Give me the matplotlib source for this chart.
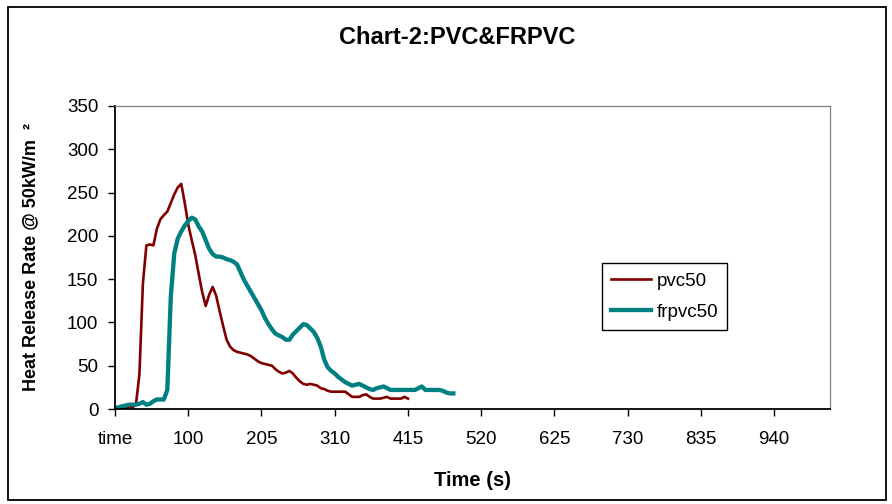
import matplotlib
matplotlib.use("Agg")
import matplotlib.pyplot as plt
from matplotlib.patches import Rectangle

plt.rcParams['font.family'] = ['Liberation Sans', 'DejaVu Sans']

# ---- data ----
categories = ["time"] + [str(t) for t in range(0, 1021, 5)]
tick_step = 21  # a label every 21st category
tick_labels = ["time", "100", "205", "310", "415", "520", "625", "730", "835", "940"]

pvc50 = [0, 0, 1, 1, 2, 2, 5, 40, 145, 189, 190, 189, 208, 219, 224, 228, 238, 248, 256, 260,
         238, 213, 195, 178, 156, 135, 119, 132, 141, 131, 113, 96, 80, 72, 68, 66, 65, 64, 63, 61,
         58, 55, 53, 52, 51, 50, 46, 43, 41, 42, 44, 41, 36, 32, 29, 28, 29, 28, 27, 24,
         23, 21, 20, 20, 20, 20, 20, 17, 14, 14, 14, 16, 17, 14, 12, 12, 12, 13, 14, 12,
         12, 12, 12, 14, 12]

frpvc50 = [1, 2, 3, 4, 5, 5, 5, 6, 8, 5, 6, 9, 11, 11, 11, 22, 130, 180, 197, 205,
           212, 217, 221, 219, 211, 205, 195, 185, 179, 176, 176, 175, 173, 172, 170, 167, 158, 149, 142, 135,
           128, 121, 114, 105, 98, 92, 87, 85, 83, 80, 80, 86, 90, 94, 98, 97, 93, 89, 82, 72,
           57, 48, 44, 41, 37, 34, 31, 29, 27, 28, 29, 27, 25, 23, 22, 24, 25, 26, 24, 22,
           22, 22, 22, 22, 22, 22, 22, 24, 26, 22, 22, 22, 22, 22, 21, 19, 18, 18]

series_names = ["pvc50", "frpvc50"]
series_colors = ["#800000", "#008080"]

yticks = [0, 50, 100, 150, 200, 250, 300, 350]

# ---- figure ----
W, H = 892, 504
fig = plt.figure(figsize=(W / 100, H / 100), dpi=100)
fig.patch.set_facecolor("white")

# outer chart border
fig.patches.append(Rectangle((8 / W, 1 - 500 / H), (886 - 8) / W, (500 - 7) / H,
                             transform=fig.transFigure, fill=False,
                             edgecolor="black", linewidth=1.3))

ax = fig.add_axes([115 / W, 1 - 409 / H, (830 - 115) / W, (409 - 106) / H])

ax.plot(range(len(pvc50)), pvc50, color=series_colors[0], lw=1.9,
        label=series_names[0], solid_joinstyle="round")
ax.plot(range(len(frpvc50)), frpvc50, color=series_colors[1], lw=3.1,
        label=series_names[1], solid_joinstyle="round")

ax.set_xlim(0, len(categories) - 1)
ax.set_ylim(0, 350)
ax.set_yticks(yticks)
ax.set_yticklabels([str(v) for v in yticks], fontsize=13.5)
xt = list(range(0, len(categories), tick_step))
ax.set_xticks(xt)
ax.set_xticklabels(tick_labels[:len(xt)], fontsize=13.5)

ax.tick_params(axis="x", direction="out", length=5, width=1, pad=11)
ax.tick_params(axis="y", direction="out", length=5, width=1, pad=7)

for s in ["top", "right"]:
    ax.spines[s].set_color("#808080")
    ax.spines[s].set_linewidth(0.9)
for s in ["left", "bottom"]:
    ax.spines[s].set_color("black")
    ax.spines[s].set_linewidth(1.3)

# titles
fig.text(457 / W, 1 - 37 / H, "Chart-2:PVC&FRPVC", ha="center", va="center",
         fontsize=17, fontweight="bold")
fig.text(472 / W, 1 - 480 / H, "Time (s)", ha="center", va="center",
         fontsize=14.5, fontweight="bold")
fig.text(31 / W, 1 - 257 / H, "Heat Release Rate @ 50kW/m  ²", ha="center", va="center",
         rotation=90, fontsize=13, fontweight="bold")

leg = ax.legend(loc="upper left", bbox_to_anchor=(602 / W, 1 - 263 / H),
                bbox_transform=fig.transFigure, frameon=True, fancybox=False,
                edgecolor="black", framealpha=1, fontsize=13.5, handlelength=2.1,
                handletextpad=0.3, borderpad=0.5, labelspacing=0.75, borderaxespad=0)
leg.get_frame().set_linewidth(1.0)

fig.savefig("out.png", dpi=100)
